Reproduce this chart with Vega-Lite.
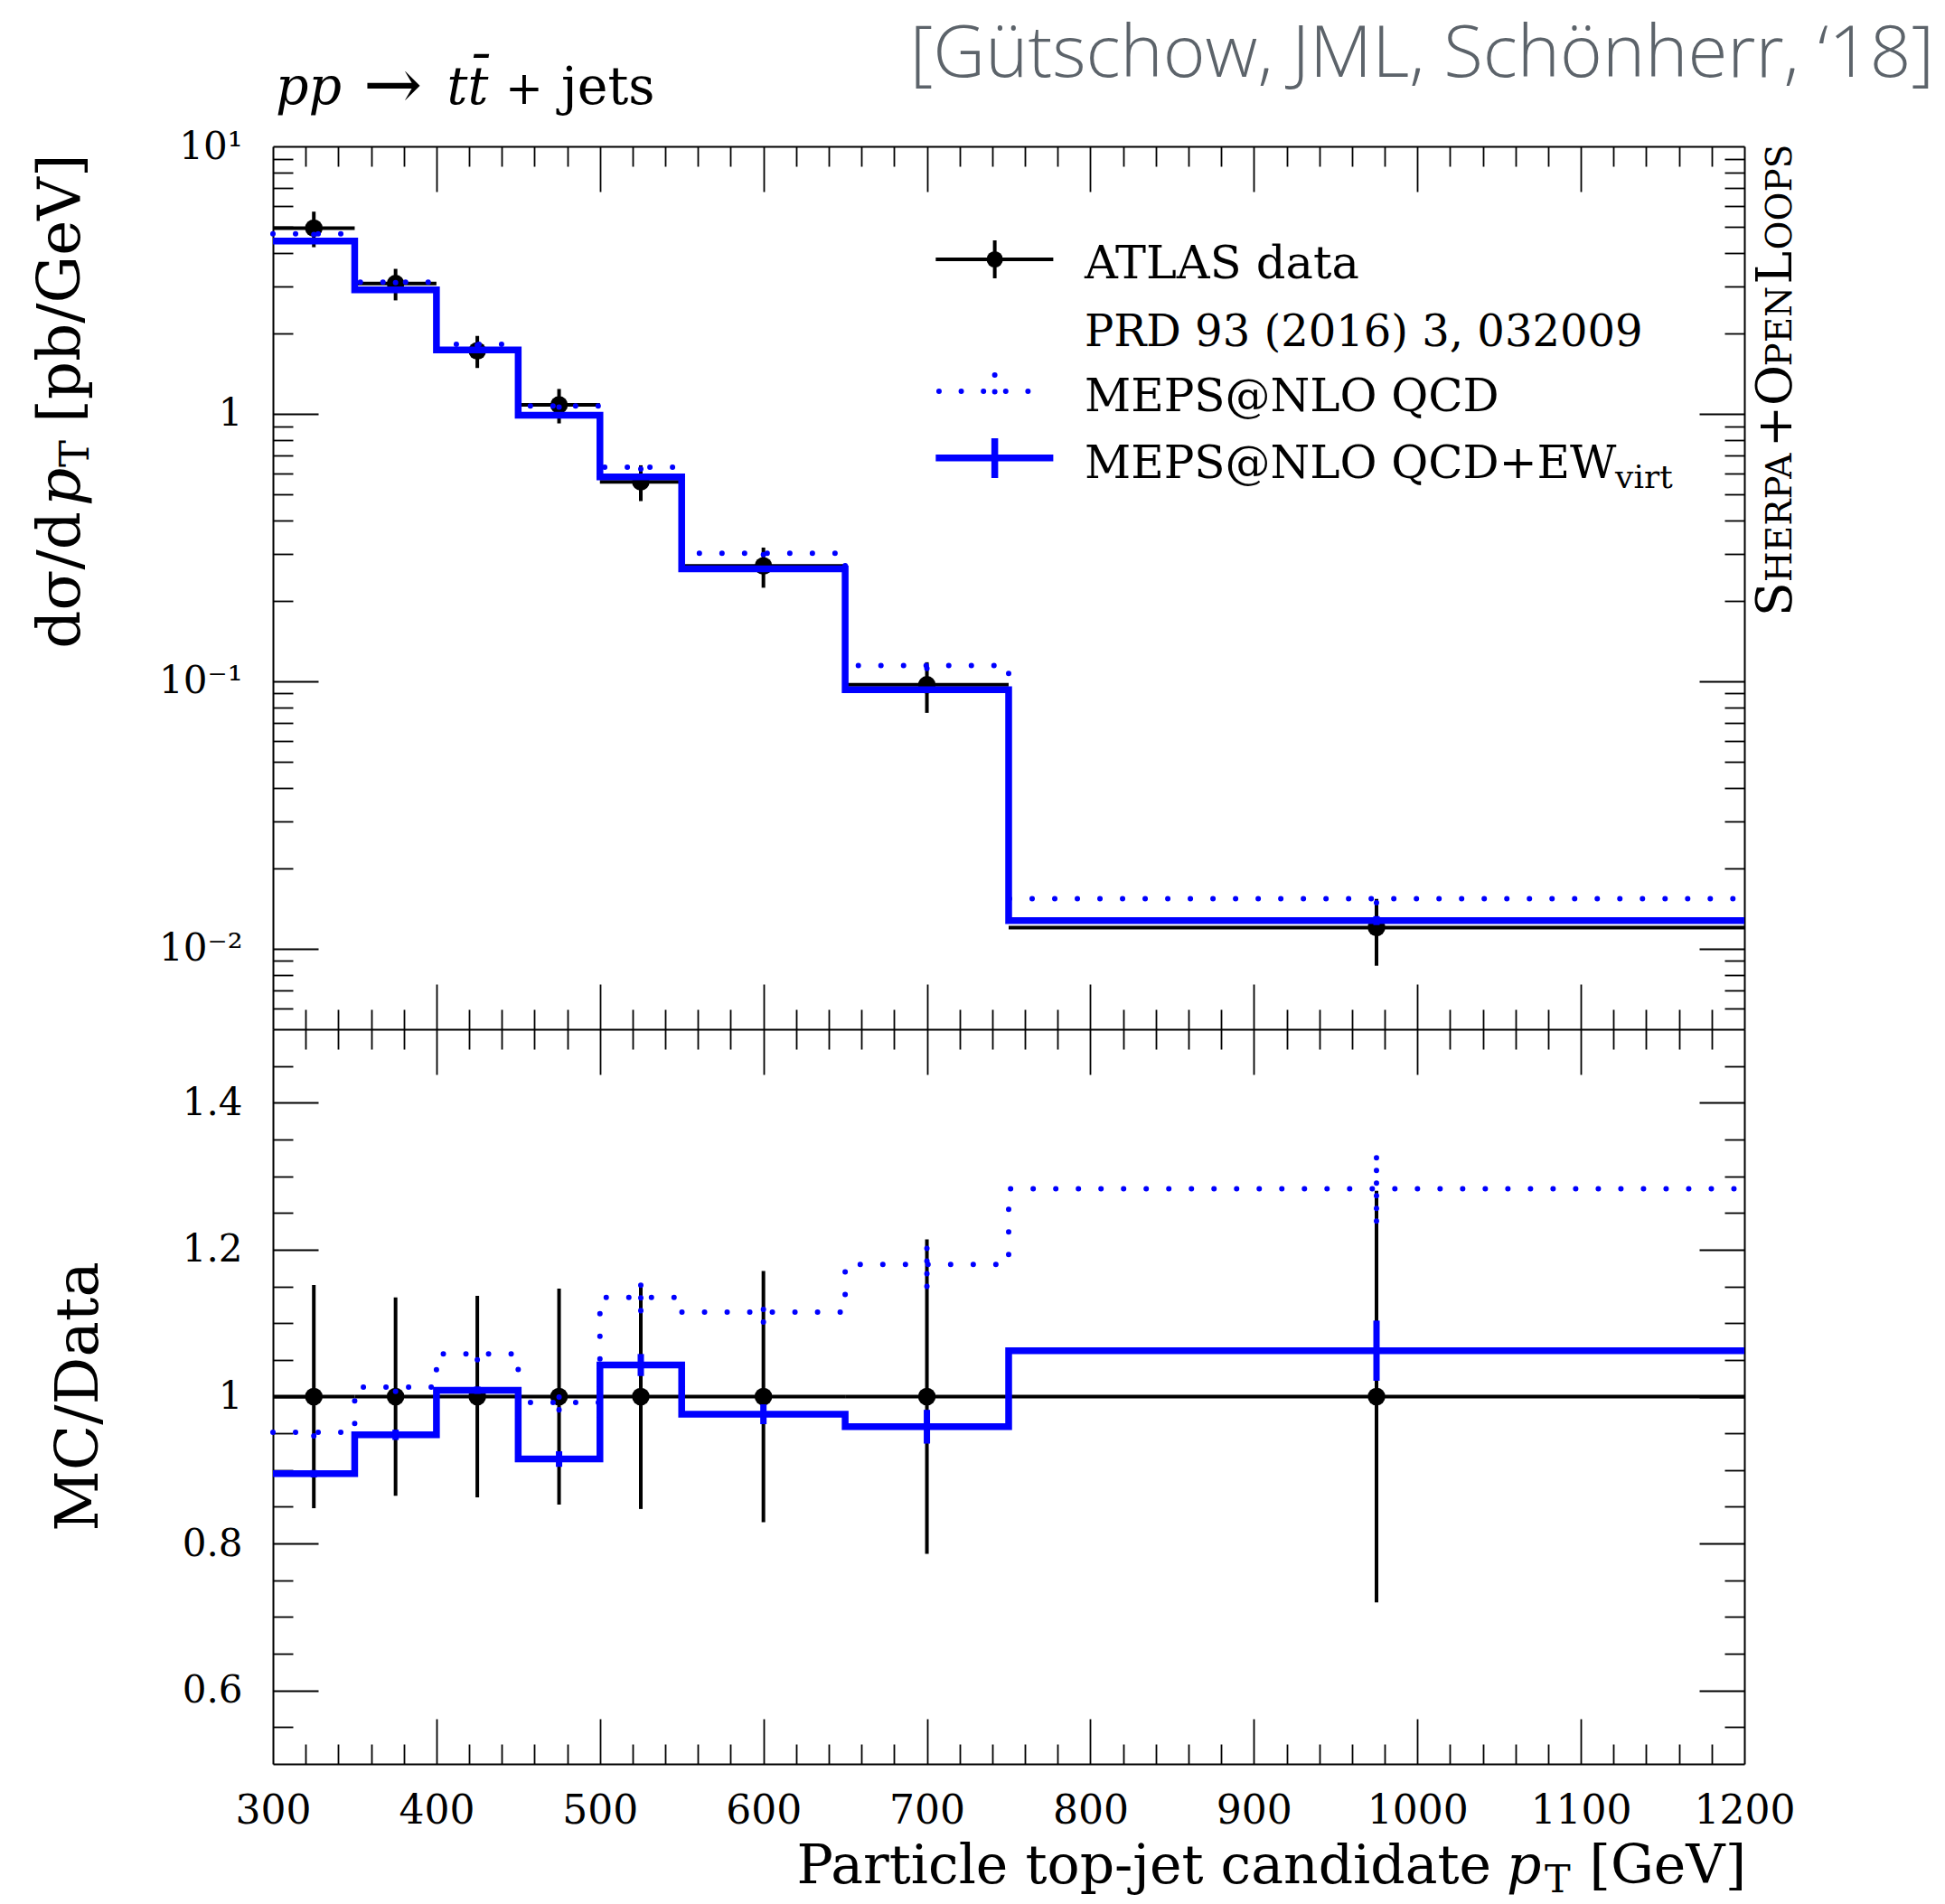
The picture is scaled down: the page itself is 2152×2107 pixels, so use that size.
{
  "$schema": "https://vega.github.io/schema/vega-lite/v6.json",
  "width": 1628,
  "height": 1790,
  "autosize": {"type": "none"},
  "padding": {"left": 302, "top": 162, "right": 222, "bottom": 155},
  "background": "white",
  "config": {
    "view": {"stroke": null},
    "axis": {
      "grid": false,
      "domainColor": "#000",
      "domainWidth": 2,
      "tickColor": "#000",
      "tickWidth": 1.8,
      "labelFont": "DejaVu Serif",
      "labelColor": "#000",
      "labelOverlap": false,
      "labelFlush": false,
      "labelBound": false
    }
  },
  "datasets": {
    "bins": [
      {"lo": 300, "hi": 350, "c": 325, "data": 4.95, "dlo": 4.198, "dhi": 5.702, "qlo": 4.685, "qhi": 4.735, "elo": 4.405, "ehi": 4.455, "rlo": 0.848, "rhi": 1.152, "rqlo": 0.9465, "rqhi": 0.9565, "relo": 0.89, "rehi": 0.9},
      {"lo": 350, "hi": 400, "c": 375, "data": 3.07, "dlo": 2.656, "dhi": 3.484, "qlo": 3.092, "qhi": 3.128, "elo": 2.8885, "ehi": 2.9315, "rlo": 0.865, "rhi": 1.135, "rqlo": 1.007, "rqhi": 1.019, "relo": 0.941, "rehi": 0.955},
      {"lo": 400, "hi": 450, "c": 425, "data": 1.72, "dlo": 1.484, "dhi": 1.956, "qlo": 1.806, "qhi": 1.834, "elo": 1.7264, "ehi": 1.7436, "rlo": 0.863, "rhi": 1.137, "rqlo": 1.05, "rqhi": 1.066, "relo": 1.0037, "rehi": 1.0137},
      {"lo": 450, "hi": 500, "c": 475, "data": 1.08, "dlo": 0.921, "dhi": 1.239, "qlo": 1.06, "qhi": 1.082, "elo": 0.9766, "ehi": 0.9995, "rlo": 0.853, "rhi": 1.147, "rqlo": 0.982, "rqhi": 1.002, "relo": 0.9044, "rehi": 0.9256},
      {"lo": 500, "hi": 550, "c": 525, "data": 0.557, "dlo": 0.4718, "dhi": 0.6422, "qlo": 0.622, "qhi": 0.642, "elo": 0.5726, "ehi": 0.5894, "rlo": 0.847, "rhi": 1.153, "rqlo": 1.117, "rqhi": 1.153, "relo": 1.028, "rehi": 1.058},
      {"lo": 550, "hi": 650, "c": 600, "data": 0.27, "dlo": 0.2238, "dhi": 0.3162, "qlo": 0.2974, "qhi": 0.3047, "elo": 0.2599, "ehi": 0.2671, "rlo": 0.829, "rhi": 1.171, "rqlo": 1.1015, "rqhi": 1.1285, "relo": 0.9625, "rehi": 0.9895},
      {"lo": 650, "hi": 750, "c": 700, "data": 0.097, "dlo": 0.0762, "dhi": 0.1178, "qlo": 0.1116, "qhi": 0.1174, "elo": 0.0908, "ehi": 0.0952, "rlo": 0.786, "rhi": 1.214, "rqlo": 1.15, "rqhi": 1.21, "relo": 0.936, "rehi": 0.982},
      {"lo": 750, "hi": 1200, "c": 975, "data": 0.012, "dlo": 0.00864, "dhi": 0.01536, "qlo": 0.01487, "qhi": 0.01593, "elo": 0.01226, "ehi": 0.01324, "rlo": 0.72, "rhi": 1.28, "rqlo": 1.239, "rqhi": 1.327, "relo": 1.0215, "rehi": 1.1035}
    ],
    "edges": [
      {"edge": 300, "qcd": 4.71, "ew": 4.43, "rq": 0.9515, "re": 0.895},
      {"edge": 350, "qcd": 3.11, "ew": 2.91, "rq": 1.013, "re": 0.948},
      {"edge": 400, "qcd": 1.82, "ew": 1.735, "rq": 1.058, "re": 1.0087},
      {"edge": 450, "qcd": 1.071, "ew": 0.988, "rq": 0.992, "re": 0.915},
      {"edge": 500, "qcd": 0.632, "ew": 0.581, "rq": 1.135, "re": 1.043},
      {"edge": 550, "qcd": 0.301, "ew": 0.2635, "rq": 1.115, "re": 0.976},
      {"edge": 650, "qcd": 0.1145, "ew": 0.093, "rq": 1.18, "re": 0.959},
      {"edge": 750, "qcd": 0.0154, "ew": 0.01275, "rq": 1.283, "re": 1.0625},
      {"edge": 1200, "qcd": 0.0154, "ew": 0.01275, "rq": 1.283, "re": 1.0625}
    ]
  },
  "layer": [
    {
      "layer": [
        {
          "data": {"name": "bins"},
          "mark": {"type": "rule", "color": "#000", "strokeWidth": 4},
          "encoding": {
            "x": {"field": "lo", "type": "quantitative", "scale": {"domain": [300, 1200], "nice": false, "zero": false},
                  "axis": {"orient": "bottom", "offset": -1790, "values": [400, 500, 600, 700, 800, 900, 1000, 1100], "tickSize": 50, "labels": false, "domain": true, "title": null}},
            "x2": {"field": "hi"},
            "y": {"field": "data", "type": "quantitative", "scale": {"type": "log", "domain": [0.005, 10], "range": [977, 0], "nice": false},
                  "axis": {"orient": "left", "values": [0.01, 0.1, 1, 10], "ticks": false, "domain": true, "labelFontSize": 42, "labelPadding": 34,
                           "labelExpr": "datum.value > 5 ? '10\u00b9' : datum.value > 0.5 ? '1' : datum.value > 0.05 ? '10\u207b\u00b9' : '10\u207b\u00b2'", "title": null}}
          }
        },
        {
          "data": {"name": "bins"},
          "mark": {"type": "rule", "color": "#000", "strokeWidth": 4},
          "encoding": {
            "x": {"field": "c", "type": "quantitative", "scale": {"domain": [300, 1200], "nice": false, "zero": false},
                  "axis": {"orient": "bottom", "offset": -1790, "values": [320, 340, 360, 380, 420, 440, 460, 480, 520, 540, 560, 580, 620, 640, 660, 680, 720, 740, 760, 780, 820, 840, 860, 880, 920, 940, 960, 980, 1020, 1040, 1060, 1080, 1120, 1140, 1160, 1180], "tickSize": 22, "labels": false, "domain": false, "title": null}},
            "y": {"field": "dlo", "type": "quantitative", "scale": {"type": "log", "domain": [0.005, 10], "range": [977, 0], "nice": false},
                  "axis": {"orient": "right", "offset": -1628, "values": [0.01, 0.1, 1], "tickSize": 50, "labels": false, "domain": false, "title": null}},
            "y2": {"field": "dhi"}
          }
        },
        {
          "data": {"name": "bins"},
          "mark": {"type": "point", "filled": true, "color": "#000", "size": 380, "opacity": 1},
          "encoding": {
            "x": {"field": "c", "type": "quantitative", "scale": {"domain": [300, 1200], "nice": false, "zero": false},
                  "axis": {"orient": "top", "offset": -977, "values": [400, 500, 600, 700, 800, 900, 1000, 1100], "tickSize": 50, "labels": false, "domain": true, "title": null}},
            "y": {"field": "data", "type": "quantitative", "scale": {"type": "log", "domain": [0.005, 10], "range": [977, 0], "nice": false},
                  "axis": {"orient": "right", "offset": -1628, "values": [0.006, 0.007, 0.008, 0.009, 0.02, 0.03, 0.04, 0.05, 0.06, 0.07, 0.08, 0.09, 0.2, 0.3, 0.4, 0.5, 0.6, 0.7, 0.8, 0.9, 2, 3, 4, 5, 6, 7, 8, 9], "tickSize": 22, "labels": false, "domain": false, "title": null}}
          }
        },
        {
          "data": {"name": "edges"},
          "mark": {"type": "line", "interpolate": "step-after", "color": "#0000ff", "strokeWidth": 6, "strokeDash": [0.01, 25], "strokeCap": "round"},
          "encoding": {
            "x": {"field": "edge", "type": "quantitative", "scale": {"domain": [300, 1200], "nice": false, "zero": false},
                  "axis": {"orient": "top", "offset": -977, "values": [320, 340, 360, 380, 420, 440, 460, 480, 520, 540, 560, 580, 620, 640, 660, 680, 720, 740, 760, 780, 820, 840, 860, 880, 920, 940, 960, 980, 1020, 1040, 1060, 1080, 1120, 1140, 1160, 1180], "tickSize": 22, "labels": false, "domain": false, "title": null}},
            "y": {"field": "qcd", "type": "quantitative", "scale": {"type": "log", "domain": [0.005, 10], "range": [977, 0], "nice": false},
                  "axis": {"orient": "left", "offset": -1628, "values": [0.01, 0.1, 1], "tickSize": 50, "labels": false, "domain": true, "title": null}}
          }
        },
        {
          "data": {"name": "bins"},
          "mark": {"type": "rule", "color": "#0000ff", "strokeWidth": 6, "strokeDash": [0.01, 12], "strokeCap": "round"},
          "encoding": {
            "x": {"field": "c", "type": "quantitative", "scale": {"domain": [300, 1200], "nice": false, "zero": false}, "axis": null},
            "y": {"field": "qlo", "type": "quantitative", "scale": {"type": "log", "domain": [0.005, 10], "range": [977, 0], "nice": false},
                  "axis": {"orient": "left", "offset": -1628, "values": [0.006, 0.007, 0.008, 0.009, 0.02, 0.03, 0.04, 0.05, 0.06, 0.07, 0.08, 0.09, 0.2, 0.3, 0.4, 0.5, 0.6, 0.7, 0.8, 0.9, 2, 3, 4, 5, 6, 7, 8, 9], "tickSize": 22, "labels": false, "domain": false, "title": null}},
            "y2": {"field": "qhi"}
          }
        },
        {
          "data": {"name": "edges"},
          "mark": {"type": "line", "interpolate": "step-after", "color": "#0000ff", "strokeWidth": 7.5},
          "encoding": {
            "x": {"field": "edge", "type": "quantitative", "scale": {"domain": [300, 1200], "nice": false, "zero": false}, "axis": null},
            "y": {"field": "ew", "type": "quantitative", "scale": {"type": "log", "domain": [0.005, 10], "range": [977, 0], "nice": false}, "axis": null}
          }
        },
        {
          "data": {"name": "bins"},
          "mark": {"type": "rule", "color": "#0000ff", "strokeWidth": 7},
          "encoding": {
            "x": {"field": "c", "type": "quantitative", "axis": null},
            "y": {"field": "elo", "type": "quantitative", "axis": null},
            "y2": {"field": "ehi"}
          }
        },
        {
          "data": {"values": [{}]},
          "mark": {"type": "rule", "color": "#000", "strokeWidth": 4},
          "encoding": {
            "x": {"datum": 705.4, "type": "quantitative", "axis": null},
            "x2": {"datum": 777.3},
            "y": {"datum": 3.782, "type": "quantitative", "axis": null}
          }
        },
        {
          "data": {"values": [{}]},
          "mark": {"type": "rule", "color": "#000", "strokeWidth": 4},
          "encoding": {
            "x": {"datum": 741.5, "type": "quantitative", "axis": null},
            "y": {"datum": 4.4535, "type": "quantitative", "axis": null},
            "y2": {"datum": 3.212}
          }
        },
        {
          "data": {"values": [{}]},
          "mark": {"type": "point", "filled": true, "color": "#000", "size": 330, "opacity": 1},
          "encoding": {
            "x": {"datum": 741.5, "type": "quantitative", "axis": null},
            "y": {"datum": 3.782, "type": "quantitative", "axis": null}
          }
        },
        {
          "data": {"values": [{}]},
          "mark": {"type": "rule", "color": "#0000ff", "strokeWidth": 6, "strokeDash": [0.01, 24.6], "strokeCap": "round"},
          "encoding": {
            "x": {"datum": 707.4, "type": "quantitative", "axis": null},
            "x2": {"datum": 775.4},
            "y": {"datum": 1.2143, "type": "quantitative", "axis": null}
          }
        },
        {
          "data": {"values": [{}]},
          "mark": {"type": "rule", "color": "#0000ff", "strokeWidth": 6, "strokeDash": [0.01, 18.5], "strokeCap": "round"},
          "encoding": {
            "x": {"datum": 741.5, "type": "quantitative", "axis": null},
            "y": {"datum": 1.3971, "type": "quantitative", "axis": null},
            "y2": {"datum": 1.0475}
          }
        },
        {
          "data": {"values": [{}]},
          "mark": {"type": "rule", "color": "#0000ff", "strokeWidth": 7.5},
          "encoding": {
            "x": {"datum": 705.4, "type": "quantitative", "axis": null},
            "x2": {"datum": 777.3},
            "y": {"datum": 0.6844, "type": "quantitative", "axis": null}
          }
        },
        {
          "data": {"values": [{}]},
          "mark": {"type": "rule", "color": "#0000ff", "strokeWidth": 7.5},
          "encoding": {
            "x": {"datum": 741.5, "type": "quantitative", "axis": null},
            "y": {"datum": 0.8103, "type": "quantitative", "axis": null},
            "y2": {"datum": 0.5754}
          }
        },
        {
          "data": {"values": [{}]},
          "mark": {"type": "text", "text": "ATLAS data", "font": "DejaVu Serif", "fontSize": 51, "align": "left", "baseline": "alphabetic", "color": "#000"},
          "encoding": {"x": {"datum": 796.4, "type": "quantitative", "axis": null}, "y": {"datum": 3.212, "type": "quantitative", "axis": null}}
        },
        {
          "data": {"values": [{}]},
          "mark": {"type": "text", "text": "PRD 93 (2016) 3, 032009", "font": "DejaVu Serif", "fontSize": 48, "align": "left", "baseline": "alphabetic", "color": "#000"},
          "encoding": {"x": {"datum": 796.4, "type": "quantitative", "axis": null}, "y": {"datum": 1.7988, "type": "quantitative", "axis": null}}
        },
        {
          "data": {"values": [{}]},
          "mark": {"type": "text", "text": "MEPS@NLO QCD", "font": "DejaVu Serif", "fontSize": 50, "align": "left", "baseline": "alphabetic", "color": "#000"},
          "encoding": {"x": {"datum": 796.4, "type": "quantitative", "axis": null}, "y": {"datum": 1.0202, "type": "quantitative", "axis": null}}
        },
        {
          "data": {"values": [{}]},
          "mark": {"type": "text", "text": "MEPS@NLO QCD+EW", "font": "DejaVu Serif", "fontSize": 50, "align": "left", "baseline": "alphabetic", "color": "#000"},
          "encoding": {"x": {"datum": 796.4, "type": "quantitative", "axis": null}, "y": {"datum": 0.5754, "type": "quantitative", "axis": null}}
        },
        {
          "data": {"values": [{}]},
          "mark": {"type": "text", "text": "virt", "font": "DejaVu Serif", "fontSize": 36, "align": "left", "baseline": "alphabetic", "color": "#000"},
          "encoding": {"x": {"datum": 1121, "type": "quantitative", "axis": null}, "y": {"datum": 0.5283, "type": "quantitative", "axis": null}}
        },
        {
          "data": {"values": [{}]},
          "mark": {"type": "text", "text": "pp", "font": "DejaVu Serif", "fontStyle": "italic", "fontSize": 57, "align": "left", "baseline": "alphabetic", "dx": 3, "dy": -47, "color": "#000"},
          "encoding": {"x": {"datum": 300, "type": "quantitative", "axis": null}, "y": {"datum": 10, "type": "quantitative", "axis": null}}
        },
        {
          "data": {"values": [{}]},
          "mark": {"type": "text", "text": "\u2192", "font": "DejaVu Serif", "fontSize": 78, "align": "left", "baseline": "alphabetic", "dx": 100, "dy": -42, "color": "#000"},
          "encoding": {"x": {"datum": 300, "type": "quantitative", "axis": null}, "y": {"datum": 10, "type": "quantitative", "axis": null}}
        },
        {
          "data": {"values": [{}]},
          "mark": {"type": "text", "text": "tt\u0304", "font": "DejaVu Serif", "fontStyle": "italic", "fontSize": 57, "align": "left", "baseline": "alphabetic", "dx": 192.6, "dy": -47, "color": "#000"},
          "encoding": {"x": {"datum": 300, "type": "quantitative", "axis": null}, "y": {"datum": 10, "type": "quantitative", "axis": null}}
        },
        {
          "data": {"values": [{}]},
          "mark": {"type": "text", "text": "+", "font": "DejaVu Serif", "fontSize": 50, "align": "left", "baseline": "alphabetic", "dx": 257, "dy": -47, "color": "#000"},
          "encoding": {"x": {"datum": 300, "type": "quantitative", "axis": null}, "y": {"datum": 10, "type": "quantitative", "axis": null}}
        },
        {
          "data": {"values": [{}]},
          "mark": {"type": "text", "text": "jets", "font": "DejaVu Serif", "fontSize": 57, "align": "left", "baseline": "alphabetic", "dx": 319, "dy": -47, "color": "#000"},
          "encoding": {"x": {"datum": 300, "type": "quantitative", "axis": null}, "y": {"datum": 10, "type": "quantitative", "axis": null}}
        },
        {
          "data": {"values": [{}]},
          "mark": {"type": "text", "text": "[G\u00fctschow, JML, Sch\u00f6nherr, \u201818]", "font": "Open Sans", "fontWeight": 300, "fontSize": 80, "align": "right", "baseline": "alphabetic", "dx": 210, "dy": -77, "color": "#5c636a"},
          "encoding": {"x": {"datum": 1200, "type": "quantitative", "axis": null}, "y": {"datum": 10, "type": "quantitative", "axis": null}}
        },
        {
          "data": {"values": [{}]},
          "mark": {"type": "text", "text": "S", "font": "DejaVu Serif", "fontSize": 55, "angle": 270, "align": "left", "baseline": "alphabetic", "dx": -520, "dy": 52, "color": "#000"},
          "encoding": {"x": {"datum": 1200, "type": "quantitative", "axis": null}, "y": {"datum": 10, "type": "quantitative", "axis": null}}
        },
        {
          "data": {"values": [{}]},
          "mark": {"type": "text", "text": "HERPA", "font": "DejaVu Serif", "fontSize": 39, "angle": 270, "align": "left", "baseline": "alphabetic", "dx": -482.3, "dy": 52, "color": "#000"},
          "encoding": {"x": {"datum": 1200, "type": "quantitative", "axis": null}, "y": {"datum": 10, "type": "quantitative", "axis": null}}
        },
        {
          "data": {"values": [{}]},
          "mark": {"type": "text", "text": "+", "font": "DejaVu Serif", "fontSize": 55, "angle": 270, "align": "left", "baseline": "alphabetic", "dx": -333, "dy": 52, "color": "#000"},
          "encoding": {"x": {"datum": 1200, "type": "quantitative", "axis": null}, "y": {"datum": 10, "type": "quantitative", "axis": null}}
        },
        {
          "data": {"values": [{}]},
          "mark": {"type": "text", "text": "O", "font": "DejaVu Serif", "fontSize": 55, "angle": 270, "align": "left", "baseline": "alphabetic", "dx": -286.9, "dy": 52, "color": "#000"},
          "encoding": {"x": {"datum": 1200, "type": "quantitative", "axis": null}, "y": {"datum": 10, "type": "quantitative", "axis": null}}
        },
        {
          "data": {"values": [{}]},
          "mark": {"type": "text", "text": "PEN", "font": "DejaVu Serif", "fontSize": 39, "angle": 270, "align": "left", "baseline": "alphabetic", "dx": -243.6, "dy": 52, "color": "#000"},
          "encoding": {"x": {"datum": 1200, "type": "quantitative", "axis": null}, "y": {"datum": 10, "type": "quantitative", "axis": null}}
        },
        {
          "data": {"values": [{}]},
          "mark": {"type": "text", "text": "L", "font": "DejaVu Serif", "fontSize": 55, "angle": 270, "align": "left", "baseline": "alphabetic", "dx": -152.6, "dy": 52, "color": "#000"},
          "encoding": {"x": {"datum": 1200, "type": "quantitative", "axis": null}, "y": {"datum": 10, "type": "quantitative", "axis": null}}
        },
        {
          "data": {"values": [{}]},
          "mark": {"type": "text", "text": "OOPS", "font": "DejaVu Serif", "fontSize": 39, "angle": 270, "align": "left", "baseline": "alphabetic", "dx": -114.5, "dy": 52, "color": "#000"},
          "encoding": {"x": {"datum": 1200, "type": "quantitative", "axis": null}, "y": {"datum": 10, "type": "quantitative", "axis": null}}
        },
        {
          "data": {"values": [{}]},
          "mark": {"type": "text", "text": "d\u03c3/d", "font": "DejaVu Serif", "fontSize": 66, "angle": 270, "align": "left", "baseline": "alphabetic", "dx": -555.7, "dy": -214, "color": "#000"},
          "encoding": {"x": {"datum": 300, "type": "quantitative", "axis": null}, "y": {"datum": 10, "type": "quantitative", "axis": null}}
        },
        {
          "data": {"values": [{}]},
          "mark": {"type": "text", "text": "p", "font": "DejaVu Serif", "fontStyle": "italic", "fontSize": 66, "angle": 270, "align": "left", "baseline": "alphabetic", "dx": -398, "dy": -214, "color": "#000"},
          "encoding": {"x": {"datum": 300, "type": "quantitative", "axis": null}, "y": {"datum": 10, "type": "quantitative", "axis": null}}
        },
        {
          "data": {"values": [{}]},
          "mark": {"type": "text", "text": "T", "font": "DejaVu Serif", "fontSize": 45, "angle": 270, "align": "left", "baseline": "alphabetic", "dx": -355, "dy": -204, "color": "#000"},
          "encoding": {"x": {"datum": 300, "type": "quantitative", "axis": null}, "y": {"datum": 10, "type": "quantitative", "axis": null}}
        },
        {
          "data": {"values": [{}]},
          "mark": {"type": "text", "text": "[pb/GeV]", "font": "DejaVu Serif", "fontSize": 66, "angle": 270, "align": "left", "baseline": "alphabetic", "dx": -306, "dy": -214, "color": "#000"},
          "encoding": {"x": {"datum": 300, "type": "quantitative", "axis": null}, "y": {"datum": 10, "type": "quantitative", "axis": null}}
        }
      ],
      "resolve": {"axis": {"x": "independent", "y": "independent"}}
    },
    {
      "layer": [
        {
          "data": {"name": "bins"},
          "mark": {"type": "rule", "color": "#000", "strokeWidth": 4},
          "encoding": {
            "x": {"field": "lo", "type": "quantitative", "scale": {"domain": [300, 1200], "nice": false, "zero": false}, "axis": null},
            "x2": {"field": "hi"},
            "y": {"datum": 1, "type": "quantitative", "scale": {"type": "linear", "domain": [0.5, 1.5], "range": [1790, 977], "nice": false, "zero": false}, "axis": null}
          }
        },
        {
          "data": {"name": "bins"},
          "mark": {"type": "rule", "color": "#000", "strokeWidth": 4},
          "encoding": {
            "x": {"field": "c", "type": "quantitative", "scale": {"domain": [300, 1200], "nice": false, "zero": false},
                  "axis": {"orient": "bottom", "values": [300, 400, 500, 600, 700, 800, 900, 1000, 1100, 1200], "ticks": false, "domain": true, "labelFontSize": 44, "labelPadding": 65, "labelBaseline": "alphabetic", "format": "d", "title": null}},
            "y": {"field": "rlo", "type": "quantitative", "scale": {"type": "linear", "domain": [0.5, 1.5], "range": [1790, 977], "nice": false, "zero": false},
                  "axis": {"orient": "left", "values": [0.6, 0.8, 1, 1.2, 1.4], "ticks": false, "domain": true, "labelFontSize": 42, "labelPadding": 34, "format": "~g", "title": null}},
            "y2": {"field": "rhi"}
          }
        },
        {
          "data": {"name": "bins"},
          "mark": {"type": "point", "filled": true, "color": "#000", "size": 380, "opacity": 1},
          "encoding": {
            "x": {"field": "c", "type": "quantitative", "axis": null},
            "y": {"datum": 1, "type": "quantitative", "axis": null}
          }
        },
        {
          "data": {"name": "edges"},
          "mark": {"type": "line", "interpolate": "step-after", "color": "#0000ff", "strokeWidth": 6, "strokeDash": [0.01, 25], "strokeCap": "round"},
          "encoding": {
            "x": {"field": "edge", "type": "quantitative", "scale": {"domain": [300, 1200], "nice": false, "zero": false},
                  "axis": {"orient": "top", "offset": -1790, "values": [400, 500, 600, 700, 800, 900, 1000, 1100], "tickSize": 50, "labels": false, "domain": false, "title": null}},
            "y": {"field": "rq", "type": "quantitative", "scale": {"type": "linear", "domain": [0.5, 1.5], "range": [1790, 977], "nice": false, "zero": false},
                  "axis": {"orient": "right", "offset": -1628, "values": [0.6, 0.8, 1, 1.2, 1.4], "tickSize": 50, "labels": false, "domain": false, "title": null}}
          }
        },
        {
          "data": {"name": "bins"},
          "mark": {"type": "rule", "color": "#0000ff", "strokeWidth": 6, "strokeDash": [0.01, 14], "strokeCap": "round"},
          "encoding": {
            "x": {"field": "c", "type": "quantitative", "scale": {"domain": [300, 1200], "nice": false, "zero": false},
                  "axis": {"orient": "top", "offset": -1790, "values": [320, 340, 360, 380, 420, 440, 460, 480, 520, 540, 560, 580, 620, 640, 660, 680, 720, 740, 760, 780, 820, 840, 860, 880, 920, 940, 960, 980, 1020, 1040, 1060, 1080, 1120, 1140, 1160, 1180], "tickSize": 22, "labels": false, "domain": false, "title": null}},
            "y": {"field": "rqlo", "type": "quantitative", "scale": {"type": "linear", "domain": [0.5, 1.5], "range": [1790, 977], "nice": false, "zero": false},
                  "axis": {"orient": "right", "offset": -1628, "values": [0.55, 0.65, 0.7, 0.75, 0.85, 0.9, 0.95, 1.05, 1.1, 1.15, 1.25, 1.3, 1.35, 1.45], "tickSize": 22, "labels": false, "domain": false, "title": null}},
            "y2": {"field": "rqhi"}
          }
        },
        {
          "data": {"name": "edges"},
          "mark": {"type": "line", "interpolate": "step-after", "color": "#0000ff", "strokeWidth": 7.5},
          "encoding": {
            "x": {"field": "edge", "type": "quantitative", "scale": {"domain": [300, 1200], "nice": false, "zero": false},
                  "axis": {"orient": "bottom", "offset": -813, "values": [400, 500, 600, 700, 800, 900, 1000, 1100], "tickSize": 50, "labels": false, "domain": false, "title": null}},
            "y": {"field": "re", "type": "quantitative", "scale": {"type": "linear", "domain": [0.5, 1.5], "range": [1790, 977], "nice": false, "zero": false},
                  "axis": {"orient": "left", "offset": -1628, "values": [0.6, 0.8, 1, 1.2, 1.4], "tickSize": 50, "labels": false, "domain": true, "title": null}}
          }
        },
        {
          "data": {"name": "bins"},
          "mark": {"type": "rule", "color": "#0000ff", "strokeWidth": 7},
          "encoding": {
            "x": {"field": "c", "type": "quantitative", "scale": {"domain": [300, 1200], "nice": false, "zero": false},
                  "axis": {"orient": "bottom", "offset": -813, "values": [320, 340, 360, 380, 420, 440, 460, 480, 520, 540, 560, 580, 620, 640, 660, 680, 720, 740, 760, 780, 820, 840, 860, 880, 920, 940, 960, 980, 1020, 1040, 1060, 1080, 1120, 1140, 1160, 1180], "tickSize": 22, "labels": false, "domain": false, "title": null}},
            "y": {"field": "relo", "type": "quantitative", "scale": {"type": "linear", "domain": [0.5, 1.5], "range": [1790, 977], "nice": false, "zero": false},
                  "axis": {"orient": "left", "offset": -1628, "values": [0.55, 0.65, 0.7, 0.75, 0.85, 0.9, 0.95, 1.05, 1.1, 1.15, 1.25, 1.3, 1.35, 1.45], "tickSize": 22, "labels": false, "domain": false, "title": null}},
            "y2": {"field": "rehi"}
          }
        },
        {
          "data": {"values": [{}]},
          "mark": {"type": "text", "text": "MC/Data", "font": "DejaVu Serif", "fontSize": 66, "angle": 270, "align": "center", "baseline": "alphabetic", "dy": -194, "color": "#000"},
          "encoding": {"x": {"datum": 300, "type": "quantitative", "axis": null}, "y": {"datum": 1, "type": "quantitative", "axis": null}}
        },
        {
          "data": {"values": [{}]},
          "mark": {"type": "text", "text": "Particle top-jet candidate", "font": "DejaVu Serif", "fontSize": 60, "align": "left", "baseline": "alphabetic", "dx": 579.6, "dy": 132, "color": "#000"},
          "encoding": {"x": {"datum": 300, "type": "quantitative", "axis": null}, "y": {"datum": 0.5, "type": "quantitative", "axis": null}}
        },
        {
          "data": {"values": [{}]},
          "mark": {"type": "text", "text": "p", "font": "DejaVu Serif", "fontStyle": "italic", "fontSize": 60, "align": "left", "baseline": "alphabetic", "dx": 1365, "dy": 132, "color": "#000"},
          "encoding": {"x": {"datum": 300, "type": "quantitative", "axis": null}, "y": {"datum": 0.5, "type": "quantitative", "axis": null}}
        },
        {
          "data": {"values": [{}]},
          "mark": {"type": "text", "text": "T", "font": "DejaVu Serif", "fontSize": 43, "align": "left", "baseline": "alphabetic", "dx": 1407, "dy": 142, "color": "#000"},
          "encoding": {"x": {"datum": 300, "type": "quantitative", "axis": null}, "y": {"datum": 0.5, "type": "quantitative", "axis": null}}
        },
        {
          "data": {"values": [{}]},
          "mark": {"type": "text", "text": "[GeV]", "font": "DejaVu Serif", "fontSize": 60, "align": "left", "baseline": "alphabetic", "dx": 1456.5, "dy": 132, "color": "#000"},
          "encoding": {"x": {"datum": 300, "type": "quantitative", "axis": null}, "y": {"datum": 0.5, "type": "quantitative", "axis": null}}
        }
      ],
      "resolve": {"axis": {"x": "independent", "y": "independent"}}
    }
  ],
  "resolve": {"scale": {"y": "independent"}, "axis": {"x": "independent", "y": "independent"}}
}
